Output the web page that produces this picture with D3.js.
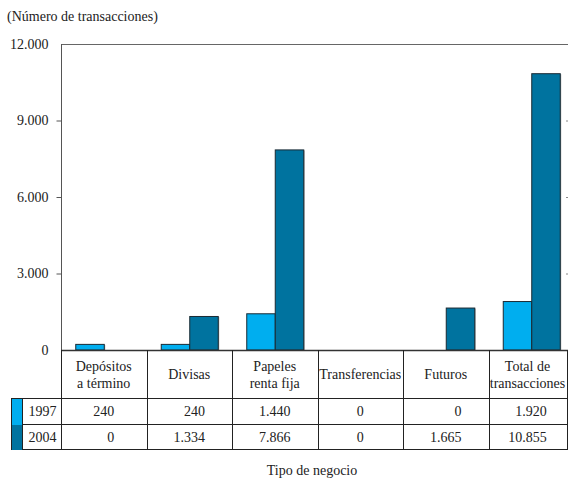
<!DOCTYPE html>
<html><head><meta charset="utf-8">
<script src="https://cdn.jsdelivr.net/npm/d3@7"></script>
<style>
body{margin:0;background:#fff}svg{display:block}
svg text{font-family:"Liberation Serif","Times New Roman",Times,serif;font-size:14px;fill:#222}
</style>
</head><body>
<script>
const categories = [["Depósitos","a término"],["Divisas"],["Papeles","renta fija"],["Transferencias"],["Futuros"],["Total de","transacciones"]];
const seriesNames = ["1997","2004"];
const values1997 = [240, 240, 1440, 0, 0, 1920];
const values2004 = [0, 1334, 7866, 0, 1665, 10855];
const labels1997 = ["240","240","1.440","0","0","1.920"];
const labels2004 = ["0","1.334","7.866","0","1.665","10.855"];
const yTicks = [0, 3000, 6000, 9000, 12000];
const yTickLabels = ["0","3.000","6.000","9.000","12.000"];
const colors = ["#00aeef","#00739f"];

(function(){
const W = 568, H = 479;
const svg = d3.select("body").append("svg").attr("width", W).attr("height", H);

const pLeft = 61, pRight = 574, pTop = 44, zeroY = 350;
const x = d3.scaleBand().domain(d3.range(categories.length)).range([pLeft, pRight]);
const y = d3.scaleLinear().domain([0, 12000]).range([zeroY, pTop]);
const xs = d3.scaleBand().domain(seriesNames).range([0, x.bandwidth()]).paddingInner(0).paddingOuter(0.5);

svg.append("text").attr("x", 7).attr("y", 21).text("(Número de transacciones)");

// frame
svg.append("line").attr("x1", pLeft).attr("x2", W).attr("y1", pTop+0.5).attr("y2", pTop+0.5).attr("stroke","#666");
svg.append("line").attr("x1", pLeft+0.5).attr("x2", pLeft+0.5).attr("y1", pTop).attr("y2", zeroY).attr("stroke","#555");

const yAxis = d3.axisLeft(y).tickValues(yTicks).tickSize(5).tickFormat((d,i)=>yTickLabels[i]);
const ga = svg.append("g").attr("transform",`translate(${pLeft+0.5},0)`).call(yAxis);
ga.select(".domain").remove();
ga.selectAll("line").attr("stroke","#555").filter(d=>d===0||d===12000).remove();
ga.selectAll("text").attr("x",-13);

const yAxisR = d3.axisLeft(y).tickValues([3000,6000,9000]).tickSize(2).tickFormat("");
const gr = svg.append("g").attr("transform",`translate(${W},0)`).call(yAxisR);
gr.select(".domain").remove();
gr.selectAll("line").attr("stroke","#888");

const series = [values1997, values2004];
categories.forEach((c, i) => {
  series.forEach((vals, s) => {
    const v = vals[i];
    if (v <= 0) return;
    const bx = x(i) + xs(seriesNames[s]);
    const bw = xs.bandwidth();
    svg.append("rect").attr("x", bx+1.5).attr("y", y(v)+1).attr("width", bw).attr("height", zeroY - y(v)-1).attr("fill","#aaa");
    svg.append("rect").attr("x", bx+0.5).attr("y", y(v)+0.5).attr("width", bw).attr("height", zeroY - y(v)-0.5)
      .attr("fill", colors[s]).attr("stroke","#1a2a33").attr("stroke-width",1);
  });
});

// zero line
svg.append("line").attr("x1", pLeft).attr("x2", W).attr("y1", zeroY+0.5).attr("y2", zeroY+0.5).attr("stroke","#333").attr("stroke-width",1.5);

// table
const row1 = 398, row2 = 424, row3 = 449, tLeft = 11, swR = 22;
const tbl = svg.append("g").attr("stroke","#222").attr("stroke-width",1);
[row1,row2,row3].forEach(yy => tbl.append("line").attr("x1",tLeft).attr("x2",W).attr("y1",yy+0.5).attr("y2",yy+0.5));
tbl.append("line").attr("x1",tLeft+0.5).attr("x2",tLeft+0.5).attr("y1",row1).attr("y2",row3+1);
const bounds = categories.map((c,i)=>x(i)).concat([W-1.5]);
bounds.forEach(bx => tbl.append("line").attr("x1",Math.round(bx)+0.5).attr("x2",Math.round(bx)+0.5).attr("y1",zeroY).attr("y2",row3+1));
[[row1,row2],[row2,row3]].forEach((r,s)=>{
  svg.append("rect").attr("x",tLeft+1).attr("y",r[0]+1).attr("width",swR-tLeft-1).attr("height",r[1]-r[0]).attr("fill",colors[s]);
  svg.append("line").attr("x1",swR+0.5).attr("x2",swR+0.5).attr("y1",r[0]).attr("y2",r[1]+1).attr("stroke","#222");
  svg.append("text").attr("x",(swR+pLeft)/2+1).attr("y",(r[0]+r[1])/2+5).attr("text-anchor","middle").text(seriesNames[s]);
});
categories.forEach((c,i)=>{
  const cx = x(i) + (i===categories.length-1 ? (W-1.5-x(i))/2 : x.bandwidth()/2);
  const cy = (zeroY+row1)/2;
  c.forEach((line,k)=>{
    svg.append("text").attr("x",cx).attr("y", cy + 5 + (k - (c.length-1)/2)*17).attr("text-anchor","middle").text(line);
  });
  const texts = [labels1997, labels2004].map((lab,s)=>{
    const r = s===0?[row1,row2]:[row2,row3];
    return svg.append("text").attr("y",(r[0]+r[1])/2+5).attr("text-anchor","end").text(lab[i]);
  });
  const maxW = d3.max(texts, t => t.node().getComputedTextLength());
  texts.forEach(t => t.attr("x", cx + maxW/2));
});

svg.append("text").attr("x",312).attr("y",475).attr("text-anchor","middle").text("Tipo de negocio");
})();
</script>
</body></html>
